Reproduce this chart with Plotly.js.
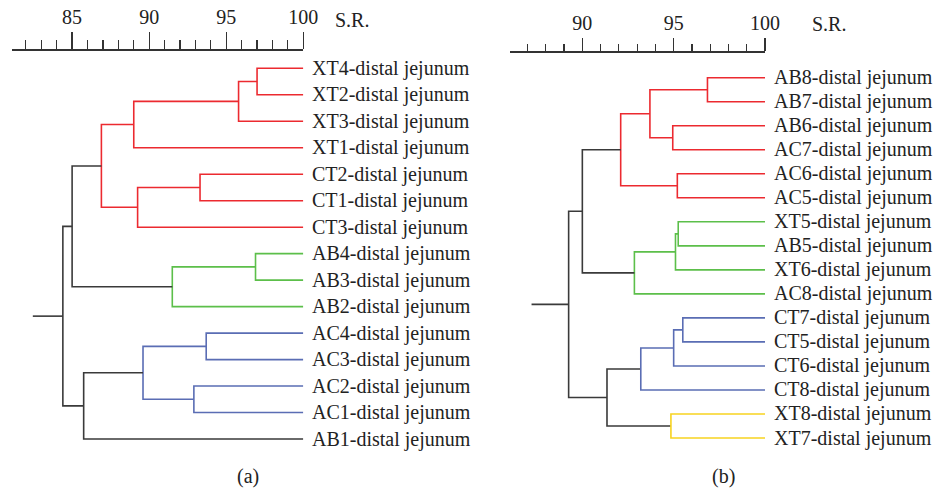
<!DOCTYPE html>
<html>
<head>
<meta charset="utf-8">
<script src="https://cdn.plot.ly/plotly-3.0.1.min.js"></script>
<style>html,body{margin:0;padding:0;background:#fff;}#chart{width:942px;height:490px;}</style>
</head>
<body>
<div id="chart"></div>
<script>
// ---------- DATA ----------
// Panel (a): leaves (top to bottom)
var leavesA = ["XT4-distal jejunum","XT2-distal jejunum","XT3-distal jejunum","XT1-distal jejunum",
  "CT2-distal jejunum","CT1-distal jejunum","CT3-distal jejunum","AB4-distal jejunum",
  "AB3-distal jejunum","AB2-distal jejunum","AC4-distal jejunum","AC3-distal jejunum",
  "AC2-distal jejunum","AC1-distal jejunum","AB1-distal jejunum"];
// linkage: node n+k joins mergeA1[k] and mergeA2[k] at similarity mergeSimA[k]
var mergeA1 = [0, 15, 16, 4, 18, 17, 7, 21, 10, 12, 23, 20, 25, 26];
var mergeA2 = [1, 2, 3, 5, 6, 19, 8, 9, 11, 13, 24, 22, 14, 27];
var mergeSimA = [97.0, 95.8, 89.0, 93.3, 89.25, 86.9, 96.9, 91.5, 93.7, 92.9, 89.6, 85.0, 85.75, 84.4];
var clusterA = ["r","r","r","r","r","r","g","g","b","b","b","k","k","k"];
var rootStubA = 82.45;

// Panel (b)
var leavesB = ["AB8-distal jejunum","AB7-distal jejunum","AB6-distal jejunum","AC7-distal jejunum",
  "AC6-distal jejunum","AC5-distal jejunum","XT5-distal jejunum","AB5-distal jejunum",
  "XT6-distal jejunum","AC8-distal jejunum","CT7-distal jejunum","CT5-distal jejunum",
  "CT6-distal jejunum","CT8-distal jejunum","XT8-distal jejunum","XT7-distal jejunum"];
var mergeB1 = [0, 2, 16, 4, 18, 6, 21, 22, 20, 10, 25, 26, 14, 27, 24];
var mergeB2 = [1, 3, 17, 5, 19, 7, 8, 9, 23, 11, 12, 13, 15, 28, 29];
var mergeSimB = [96.85, 94.95, 93.7, 95.2, 92.1, 95.25, 95.1, 92.85, 90.0, 95.5, 95.0, 93.2, 94.85, 91.35, 89.25];
var clusterB = ["r","r","r","r","r","g","g","g","k","b","b","b","y","k","k"];
var rootStubB = 87.22;

var majorTicksA = [85, 90, 95, 100];
var majorTicksB = [90, 95, 100];
var scaleLabel = "S.R.";
var panelLabels = ["(a)", "(b)"];

// ---------- STYLE ----------
var COLORS = {r:"#ec2a30", g:"#5cbf4a", b:"#5a6db4", y:"#f7d320", k:"#3a3a3a"};
var FONT = "Liberation Serif, Times New Roman, serif";
var W = 942, H = 490;

function buildTraces(leaves, m1, m2, sim, cl, stub, xa, ya) {
  var n = leaves.length;
  var nx = [], ny = [];
  for (var i = 0; i < n; i++) { nx.push(100); ny.push(i); }
  var segs = {};
  for (var k = 0; k < sim.length; k++) {
    var a = m1[k], b = m2[k], v = sim[k];
    var c = cl[k];
    if (!segs[c]) segs[c] = {x: [], y: []};
    var s = segs[c];
    s.x.push(nx[a], v, v, nx[b], null);
    s.y.push(ny[a], ny[a], ny[b], ny[b], null);
    nx.push(v); ny.push((ny[a] + ny[b]) / 2);
  }
  var root = nx.length - 1;
  segs.k = segs.k || {x: [], y: []};
  segs.k.x.push(stub, nx[root], null);
  segs.k.y.push(ny[root], ny[root], null);
  var traces = [];
  Object.keys(segs).forEach(function (c) {
    traces.push({type: "scatter", mode: "lines", x: segs[c].x, y: segs[c].y,
      xaxis: xa, yaxis: ya, hoverinfo: "skip", showlegend: false,
      line: {color: COLORS[c], width: 1.6}});
  });
  return traces;
}

var traces = buildTraces(leavesA, mergeA1, mergeA2, mergeSimA, clusterA, rootStubA, "x", "y")
  .concat(buildTraces(leavesB, mergeB1, mergeB2, mergeSimB, clusterB, rootStubB, "x2", "y2"));

// pixel geometry
function yRange(topPix, botPix, leaf0Pix, step) {
  return [(botPix - leaf0Pix) / step, (topPix - leaf0Pix) / step];
}
var botPix = 470;
var A = {x0: 12, x1: 303.3, lo: 81.1, top: 50.7, leaf0: 68.3, step: 26.48, tl: 17, ml: 9};
var B = {x0: 510, x1: 765, lo: 86.04, top: 52.7, leaf0: 77.7, step: 24.02, tl: 13, ml: 7};

function xAxis(P, ticks, anchor) {
  return {domain: [P.x0 / W, P.x1 / W], range: [P.lo, 100], side: "top", anchor: anchor,
    showline: true, linecolor: "#333", linewidth: 1.3, showgrid: false, zeroline: false,
    tickmode: "array", tickvals: ticks, ticks: "outside", ticklen: P.tl, tickwidth: 1.3, tickcolor: "#333",
    tickfont: {family: FONT, size: 20, color: "#222"},
    minor: {ticks: "outside", ticklen: P.ml, tickwidth: 1.2, tickcolor: "#333", dtick: 1, tick0: 0, showgrid: false},
    fixedrange: true};
}
function yAxis(P, anchor) {
  return {domain: [1 - botPix / H, 1 - P.top / H], range: yRange(P.top, botPix, P.leaf0, P.step),
    visible: false, anchor: anchor, fixedrange: true};
}

var LBL = {family: FONT, size: 20, color: "#222"};
var annotations = [];
leavesA.forEach(function (t, i) {
  annotations.push({xref: "x", yref: "y", x: 100, y: i, text: t, showarrow: false,
    xanchor: "left", yanchor: "middle", xshift: 7, font: LBL});
});
leavesB.forEach(function (t, i) {
  annotations.push({xref: "x2", yref: "y2", x: 100, y: i, text: t, showarrow: false,
    xanchor: "left", yanchor: "middle", xshift: 7, font: LBL});
});
annotations.push({xref: "paper", yref: "paper", x: 352 / W, y: 1 - 20 / H, text: scaleLabel, showarrow: false,
  xanchor: "center", yanchor: "middle", font: LBL});
annotations.push({xref: "paper", yref: "paper", x: 829 / W, y: 1 - 24 / H, text: scaleLabel, showarrow: false,
  xanchor: "center", yanchor: "middle", font: LBL});
annotations.push({xref: "paper", yref: "paper", x: 247.5 / W, y: 1 - 476 / H, text: panelLabels[0], showarrow: false,
  xanchor: "center", yanchor: "middle", font: LBL});
annotations.push({xref: "paper", yref: "paper", x: 723 / W, y: 1 - 476 / H, text: panelLabels[1], showarrow: false,
  xanchor: "center", yanchor: "middle", font: LBL});

var layout = {
  width: W, height: H, margin: {l: 0, r: 0, t: 0, b: 0},
  paper_bgcolor: "#fff", plot_bgcolor: "rgba(0,0,0,0)",
  xaxis: xAxis(A, majorTicksA, "y"), yaxis: yAxis(A, "x"),
  xaxis2: xAxis(B, majorTicksB, "y2"), yaxis2: yAxis(B, "x2"),
  annotations: annotations, showlegend: false
};

Plotly.newPlot("chart", traces, layout, {displayModeBar: false, staticPlot: true});
</script>
</body>
</html>
